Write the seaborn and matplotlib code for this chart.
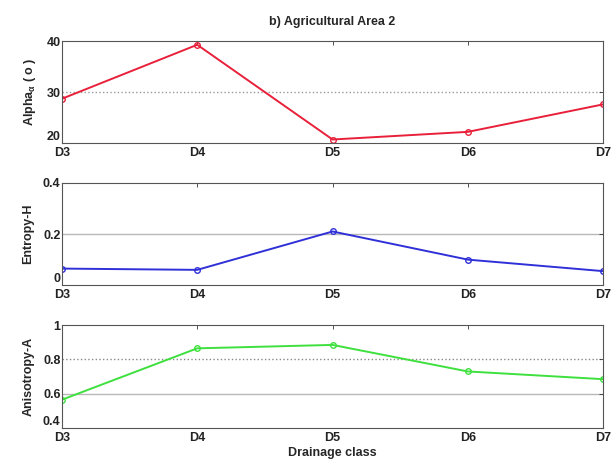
import matplotlib
matplotlib.use("Agg")
import matplotlib.pyplot as plt
import seaborn as sns
import pandas as pd

classes = ["D3", "D4", "D5", "D6", "D7"]
alpha_vals = [28.7, 39.3, 20.7, 22.2, 27.6]
entropy_vals = [0.065, 0.060, 0.210, 0.100, 0.055]
anisotropy_vals = [0.565, 0.865, 0.885, 0.730, 0.685]

sns.set_theme(style="white")
plt.rcParams["font.family"] = ["Liberation Sans", "DejaVu Sans"]
plt.rcParams["mathtext.fontset"] = "custom"
plt.rcParams["mathtext.rm"] = "Liberation Sans:bold"
plt.rcParams["mathtext.it"] = "Liberation Sans:bold"

df = pd.DataFrame({
    "pos": range(len(classes)),
    "alpha": alpha_vals,
    "entropy": entropy_vals,
    "anisotropy": anisotropy_vals,
})

fig = plt.figure(figsize=(6.13, 4.63), dpi=100)
boxes = [
    [0.101, 0.691, 0.883, 0.220],
    [0.101, 0.384, 0.883, 0.221],
    [0.101, 0.0756, 0.883, 0.222],
]
panels = [
    ("alpha", "#e8203a", r"Alpha$_{\alpha}$ ( o )", (20, 40), [20, 30, 40], ["20", "30", "40"]),
    ("entropy", "#3030d8", "Entropy-H", (0, 0.4), [0, 0.2, 0.4], ["0", "0.2", "0.4"]),
    ("anisotropy", "#3ee03e", "Anisotropy-A", (0.4, 1.0), [0.4, 0.6, 0.8, 1.0], ["0.4", "0.6", "0.8", "1"]),
]
grid_styles = {
    "alpha": [(30, ":", "#999999")],
    "entropy": [(0.2, "-", "#b8b8b8")],
    "anisotropy": [(0.8, ":", "#888888"), (0.6, "-", "#b8b8b8")],
}

axes = []
for box, (col, color, label, ylim, yt, ytl) in zip(boxes, panels):
    ax = fig.add_axes(box)
    for y, ls, gc in grid_styles[col]:
        ax.axhline(y, ls=ls, color=gc, lw=1.0, zorder=0)
    sns.lineplot(data=df, x="pos", y=col, ax=ax, color=color, lw=1.4,
                 marker="o", markersize=4, markerfacecolor="none",
                 markeredgecolor=color, markeredgewidth=1.0)
    ax.set_xlim(0, len(classes) - 1)
    ax.set_ylim(*ylim)
    ax.set_xticks(range(len(classes)))
    ax.set_xticklabels(classes, fontsize=9, fontweight="bold")
    ax.set_yticks(yt)
    ax.set_yticklabels(ytl, fontsize=9, fontweight="bold")
    # lift the bottom y label so it sits above the class labels
    ax.get_yticklabels()[0].set_verticalalignment("bottom")
    ax.set_ylabel(label, fontsize=9, fontweight="bold", labelpad=6)
    ax.set_xlabel("")
    ax.tick_params(axis="both", direction="in", length=3, width=0.6,
                   top=True, right=True, pad=1, colors="#333333",
                   labelcolor="#222222")
    ax.tick_params(axis="x", pad=3)
    for s in ax.spines.values():
        s.set_color("#555555")
        s.set_linewidth(0.8)
    axes.append(ax)

axes[0].set_title("b) Agricultural Area 2", fontsize=9, fontweight="bold", pad=12)
axes[2].set_xlabel("Drainage class", fontsize=9, fontweight="bold", labelpad=2)

fig.savefig("out.png", dpi=100, facecolor="white")
